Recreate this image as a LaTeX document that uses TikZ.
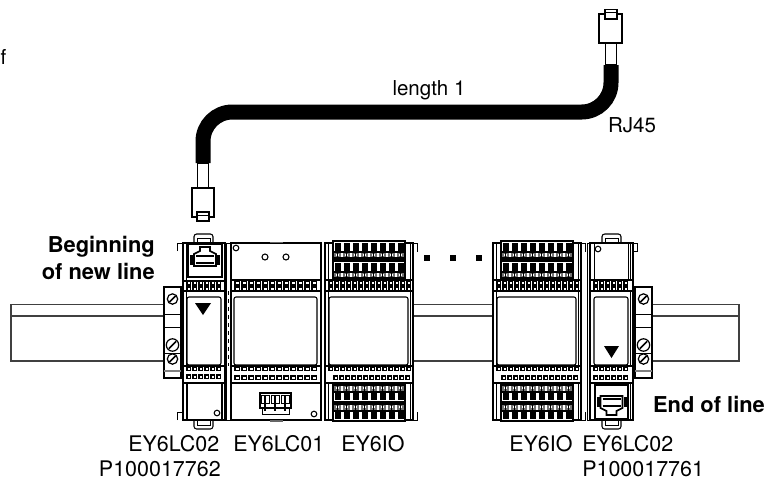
\documentclass[tikz,border=0pt]{standalone}
\usepackage{fontspec}
\setmainfont{TeX Gyre Heros}
\usepackage{tikz}
\tikzset{
  part/.style={draw=black, line width=0.8pt, fill=white},
  wire/.style={draw=black, line width=0.7pt},
  railline/.style={draw=black!75, line width=0.9pt},
  cable/.style={draw=black, line width=11.25pt, rounded corners=22pt},
  caption/.style={font=\fontsize{16.1}{19}\selectfont, inner sep=0pt},
  cablecap/.style={font=\fontsize{15.4}{18}\selectfont, inner sep=0pt},
  boldcap/.style={font=\fontsize{16.4}{19}\selectfont\bfseries, inner sep=0pt},
  tick/.style={draw=black, line width=0.8pt, fill=white},
}
% a row of small teeth: x start, number, pitch, y top
\newcommand{\teethrow}[4]{
  \foreach \i in {1,...,#2}
    \draw[tick] ({#1+(\i-1)*#3},#4) rectangle ({#1+(\i-1)*#3+#3*0.62},#4+3.5);
}
% terminal block: x start, y of the dark end, direction
\newcommand{\termblock}[3]{
  \draw[part] (#1,#2) rectangle (#1+72,#2+#3*19);
  \foreach \i in {0,...,7} {
    \fill[black] (#1+1.5+\i*9,#2+#3*2) rectangle (#1+7.5+\i*9,#2+#3*10);
    \draw[black!55, line width=0.8pt] (#1+2+\i*9,#2+#3*12) rectangle (#1+7+\i*9,#2+#3*16);
    \fill[black] (#1+3.6+\i*9,#2+#3*10) rectangle (#1+5.4+\i*9,#2+#3*19);
  }
  \fill[black] (#1+1,#2+#3*9.5) rectangle (#1+71,#2+#3*11.5);
  \fill[black] (#1+1,#2+#3*16) rectangle (#1+71,#2+#3*18);
}
% RJ45 socket outline: x centre, y of the narrow end, direction
\newcommand{\jack}[3]{
  \draw[line width=1.2pt, fill=white] (#1-5,#2) -- (#1+5,#2) -- (#1+5,#2+#3*4) -- (#1+11,#2+#3*7)
    -- (#1+11,#2+#3*19) -- (#1-11,#2+#3*19) -- (#1-11,#2+#3*7) -- (#1-5,#2+#3*4) -- cycle;
  \draw[line width=1.4pt] (#1-9,#2+#3*9) -- (#1+9,#2+#3*9);
  \draw[line width=1.4pt] (#1-9,#2+#3*16) -- (#1+9,#2+#3*16);
  \fill[black] (#1-15,#2+#3*8) rectangle (#1-12,#2+#3*18);
  \fill[black] (#1+12,#2+#3*8) rectangle (#1+15,#2+#3*18);
}
\begin{document}
\begin{tikzpicture}[x=0.75pt,y=-0.75pt]
  \useasboundingbox (0,0) rectangle (769,480);

  % Rail
  \draw[railline] (165,304.5) -- (11,304.5) -- (11,361) -- (165,361);
  \draw[railline] (11,316) -- (165,316);
  \draw[railline] (413,304.5) -- (493,304.5);
  \draw[railline] (413,316) -- (493,316);
  \draw[railline] (413,361) -- (493,361);
  \draw[railline] (652,304.5) -- (739,304.5) -- (739,361) -- (652,361);
  \draw[railline] (652,316) -- (739,316);

  % Clamps
  \foreach \cx in {164,635} {
    \draw[part] (\cx,287) rectangle (\cx+17,378);
    \draw[wire] (\cx,314) -- (\cx+17,314);
    \draw[wire] (\cx,327) -- (\cx+17,327);
    \draw[wire] (\cx,353) -- (\cx+17,353);
    \draw[draw=black!50, line width=0.8pt] (\cx,371) -- (\cx+17,371);
    \foreach \sy/\sr in {299/5.2,345/6.2,359/5.2} {
      \draw[line width=0.9pt, fill=white] (\cx+8.5,\sy) circle[radius=\sr];
      \draw[line width=1.1pt] (\cx+8.5-\sr*0.6,\sy+\sr*0.6) -- (\cx+8.5+\sr*0.6,\sy-\sr*0.6);
    }
  }

  % Tabs of the end modules
  \foreach \tx in {194,602} {
    \draw[part, rounded corners=2pt] (\tx,243) -- (\tx,234) -- (\tx+19,234) -- (\tx+19,243);
    \draw[wire] (\tx+3,243) -- (\tx+3,238) -- (\tx+16,238) -- (\tx+16,243);
    \draw[part, rounded corners=2pt] (\tx,420) -- (\tx,429) -- (\tx+19,429) -- (\tx+19,420);
    \draw[wire] (\tx+3,420) -- (\tx+3,425) -- (\tx+16,425) -- (\tx+16,420);
  }

  % Left end module
  \draw[part] (183,243) rectangle (225,420);
  \draw[wire] (177,251) -- (177,243) -- (183,243);
  \draw[wire] (177,420) -- (177,412) -- (183,412);
  \draw[wire] (186,243) -- (186,420);
  \draw[line width=1.3pt, fill=white] (188,244) rectangle (222,277);
  \jack{205}{247}{1}
  \draw[part] (183,281) rectangle (225,291);
  \teethrow{187}{6}{6}{281.5}
  \teethrow{187}{6}{6}{287}
  \draw[part, rounded corners=1.5pt] (187,297) rectangle (221,365);
  \fill[black] (195,303) -- (211,303) -- (203,315) -- cycle;
  \draw[part] (183,366) rectangle (225,383);
  \teethrow{187}{6}{6}{367}
  \teethrow{187}{6}{6}{375}
  \draw[line width=0.8pt] (187,383) -- (187,419);
  \draw[line width=0.8pt] (222,383) -- (222,419);
  \draw[line width=0.8pt, fill=white] (217,413) circle[radius=2.8];

  % Second module
  \draw[part] (231,243) rectangle (321,420);
  \draw[wire] (226,243) rectangle (231,420);
  \draw[line width=1.4pt, dashed] (228.5,291) -- (228.5,366);
  \draw[line width=0.8pt, fill=white] (236,248) circle[radius=2.8];
  \draw[line width=0.8pt, fill=white] (265,257) circle[radius=3];
  \draw[line width=0.8pt, fill=white] (286,257) circle[radius=3];
  \draw[part] (231,280) rectangle (321,291);
  \teethrow{235}{12}{7}{281.5}
  \teethrow{235}{12}{7}{287}
  \draw[part, rounded corners=1.5pt] (234,297) rectangle (317,365);
  \draw[part] (231,366) rectangle (321,383);
  \teethrow{235}{12}{7}{367}
  \teethrow{235}{12}{7}{376}
  \draw[part] (260,393) rectangle (291,408);
  \foreach \bx in {265,275,285} {
    \draw[line width=0.7pt] (\bx-4,395) rectangle (\bx+4,403);
    \fill[black] (\bx-1.2,395) rectangle (\bx+1.2,411);
  }
  \draw[wire] (262,408) -- (262,414) -- (289,414) -- (289,408);
  \draw[line width=0.8pt, fill=white] (314,414) circle[radius=2.8];
  \fill[black!60] (270,420) rectangle (283,421.5);
  \fill[black!60] (270,241.5) rectangle (283,243);

  % IO modules
  \foreach \mx in {325,493} {
    \draw[part] (\mx,243) rectangle (\mx+88,420);
    \draw[wire] (\mx+3,243) -- (\mx+3,420);
    \draw[wire] (\mx+85,243) -- (\mx+85,420);
    \draw[wire] (\mx+88,243) -- (\mx+92,243) -- (\mx+92,252);
    \draw[wire] (\mx+88,420) -- (\mx+92,420) -- (\mx+92,412);
    \draw[part] (\mx,280) rectangle (\mx+88,291);
    \teethrow{\mx+4}{14}{6}{281.5}
    \teethrow{\mx+4}{14}{6}{287}
    \draw[part, rounded corners=1.5pt] (\mx+4,297) rectangle (\mx+83,365);
    \draw[part] (\mx,366) rectangle (\mx+88,383);
    \teethrow{\mx+4}{14}{6}{367}
    \teethrow{\mx+9}{13}{6}{376}
    \termblock{\mx+8}{241}{1}
    \termblock{\mx+8}{261}{1}
    \termblock{\mx+8}{402}{-1}
    \termblock{\mx+8}{421}{-1}
  }

  % Right end module
  \draw[part] (590,243) rectangle (633,420);
  \draw[wire] (587,243) rectangle (590,420);
  \draw[wire] (633,251) -- (637,251) -- (637,243) -- (633,243);
  \draw[wire] (630,243) -- (630,420);
  \draw[wire] (594,243) -- (594,280);
  \draw[wire] (628,243) -- (628,280);
  \draw[line width=0.8pt, fill=white] (598,249) circle[radius=2.8];
  \draw[part] (590,280) rectangle (633,291);
  \teethrow{594}{6}{6}{281.5}
  \teethrow{594}{6}{6}{287}
  \draw[part, rounded corners=1.5pt] (594,297) rectangle (628,365);
  \fill[black] (604,346) -- (619,346) -- (611.5,358) -- cycle;
  \draw[part] (590,366) rectangle (633,383);
  \teethrow{594}{6}{6}{367}
  \teethrow{594}{6}{6}{376}
  \draw[line width=1.3pt, fill=white] (595,385) rectangle (628,419);
  \jack{611.5}{415}{-1}

  % Dots
  \foreach \dx in {427,453,479}
    \fill[black] (\dx-3,255) rectangle (\dx+3,261);

  % Cable
  \coordinate (plugA) at (203,163);
  \coordinate (bendA) at (203,112);
  \coordinate (bendB) at (611,112);
  \coordinate (plugB) at (611,65);
  \draw[cable] (plugA) -- (bendA) -- (bendB) -- (plugB);

  % Plugs
  \draw[part] (197.5,163) rectangle (208.5,188);
  \draw[part] (192,188) rectangle (214,217);
  \draw[part] (197,212) rectangle (209,221);
  \draw[wire] (197,215) -- (209,215);
  \draw[part] (605.5,43) rectangle (616.5,65);
  \draw[part] (599,14) rectangle (622,43);
  \draw[part] (605,9.5) rectangle (617,19);
  \draw[wire] (605,12) -- (617,12);

  % Labels
  \node[cablecap, anchor=base] (stray) at (3.5,64) {f};
  \node[cablecap, anchor=base] (lengthlabel) at (429,95) {length 1};
  \node[cablecap, anchor=base] (rjlabel) at (632,132) {RJ45};
  \node[boldcap, anchor=base east] (beginlabel) at (155,252) {Beginning};
  \node[boldcap, anchor=base east] (newlinelabel) at (155,279) {of new line};
  \node[boldcap, anchor=base] (endlabel) at (709,412) {End of line};
  \node[caption, anchor=base west] (lcleft) at (128,451) {EY6LC02};
  \node[caption, anchor=base west] (lcone) at (233,451) {EY6LC01};
  \node[caption, anchor=base west] (ioleft) at (341,451) {EY6IO};
  \node[caption, anchor=base west] (ioright) at (509,451) {EY6IO};
  \node[caption, anchor=base west] (lcright) at (582,451) {EY6LC02};
  \node[caption, anchor=base east] (partleft) at (221,476) {P100017762};
  \node[caption, anchor=base west] (partright) at (582,476) {P100017761};
\end{tikzpicture}
\end{document}
